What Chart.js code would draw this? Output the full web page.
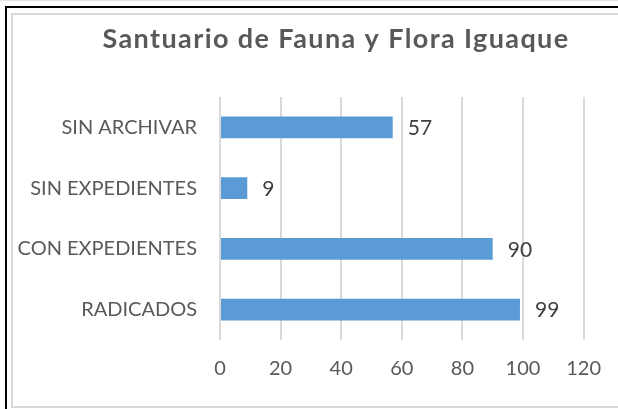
<!DOCTYPE html>
<html>
<head>
<meta charset="utf-8">
<script src="https://cdn.jsdelivr.net/npm/chart.js@4.4.1/dist/chart.umd.min.js"></script>
<style>
  html, body { margin: 0; padding: 0; background: #fff; overflow: hidden; }
  #wrap { position: relative; width: 618px; height: 409px; overflow: hidden; }
  #topLine { position: absolute; left: 0; top: 0; width: 618px; height: 1px; background: #e3e3e3; }
  #frameBlack { position: absolute; left: 5px; top: 6px; width: 700px; height: 500px;
    border-top: 2px solid #000; border-left: 2px solid #000; }
  #frameGrey { position: absolute; left: 11px; top: 13px; width: 700px; height: 391px;
    border: 2px solid #d9d9d9; }
  canvas { position: absolute; left: 0; top: 0; }
</style>
</head>
<body>
<div id="wrap">
  <div id="topLine"></div>
  <div id="frameBlack"></div>
  <div id="frameGrey"></div>
  <canvas id="chart" width="618" height="409"></canvas>
</div>
<script>
// Chart data
const chartTitle = 'Santuario de Fauna y Flora Iguaque';
const categories = ['SIN ARCHIVAR', 'SIN EXPEDIENTES', 'CON EXPEDIENTES', 'RADICADOS'];
const values = [57, 9, 90, 99];
const axisMax = 120;
const axisStep = 20;

const fontFamily = 'Lato, "Open Sans", sans-serif';

// Title drawn centred over the whole Excel chart box
const titlePlugin = {
    id: 'excelTitle',
    afterDraw(chart) {
        const ctx = chart.ctx;
        ctx.save();
        ctx.font = 'bold 27px ' + fontFamily;
        ctx.letterSpacing = '1.4px';
        ctx.fillStyle = '#595959';
        ctx.textAlign = 'center';
        ctx.textBaseline = 'alphabetic';
        ctx.fillText(chartTitle, 336, 48);
        ctx.restore();
    }
};

// Value labels at the end of each bar
const valueLabels = {
    id: 'valueLabels',
    afterDatasetsDraw(chart) {
        const ctx = chart.ctx;
        const meta = chart.getDatasetMeta(0);
        ctx.save();
        ctx.font = '21px ' + fontFamily;
        ctx.fillStyle = '#404040';
        ctx.textAlign = 'left';
        ctx.textBaseline = 'middle';
        meta.data.forEach((bar, i) => {
            ctx.fillText(values[i], bar.x + 15, bar.y + 1);
        });
        ctx.restore();
    }
};

const ctx = document.getElementById('chart').getContext('2d');
new Chart(ctx, {
    type: 'bar',
    data: {
        labels: categories,
        datasets: [{
            data: values,
            backgroundColor: '#5b9bd5',
            borderWidth: 0,
            barPercentage: 1,
            categoryPercentage: 0.355
        }]
    },
    options: {
        indexAxis: 'y',
        responsive: false,
        animation: false,
        layout: {
            padding: { left: 12, top: 97, right: 31, bottom: 19 }
        },
        plugins: {
            legend: { display: false },
            tooltip: { enabled: false }
        },
        scales: {
            x: {
                min: 0,
                max: axisMax,
                ticks: {
                    stepSize: axisStep,
                    padding: 17,
                    color: '#595959',
                    font: { family: fontFamily, size: 20 }
                },
                grid: { color: '#d9d9d9', lineWidth: 2, drawTicks: false },
                border: { display: false },
                afterFit(scale) { scale.height = 50; }
            },
            y: {
                ticks: {
                    padding: 23,
                    color: '#595959',
                    font: { family: fontFamily, size: 20 }
                },
                grid: { display: false, drawTicks: false },
                border: { display: false },
                afterFit(scale) { scale.width = 208; }
            }
        }
    },
    plugins: [titlePlugin, valueLabels]
});
</script>
</body>
</html>
